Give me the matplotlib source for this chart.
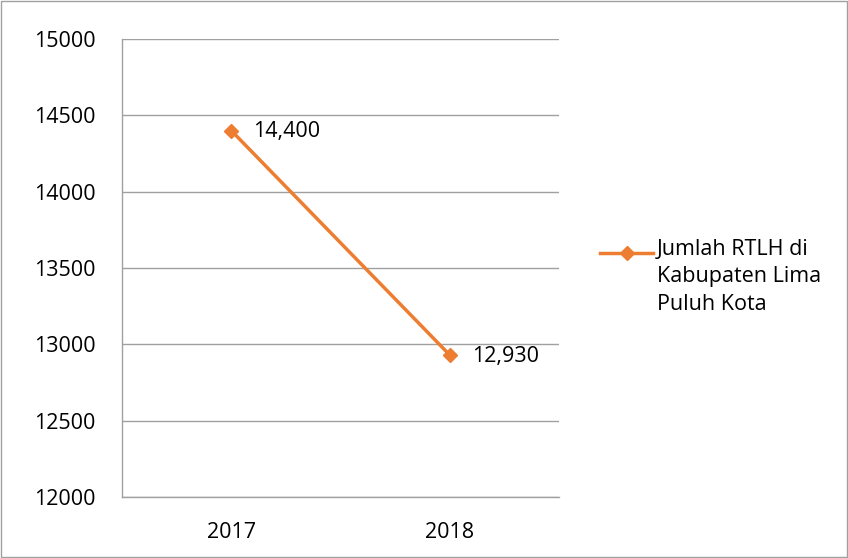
import matplotlib
matplotlib.use("Agg")
import matplotlib.pyplot as plt
from matplotlib.patches import Rectangle
from matplotlib.lines import Line2D

years = ["2017", "2018"]
values = [14400, 12930]
value_labels = ["14,400", "12,930"]
series_name = "Jumlah RTLH di\nKabupaten Lima\nPuluh Kota"
yticks = [12000, 12500, 13000, 13500, 14000, 14500, 15000]

plt.rcParams['font.family'] = ['Open Sans', 'DejaVu Sans']
color = "#ED7D31"
FS = 15.5

fig = plt.figure(figsize=(8.48, 5.58), dpi=100)
ax = fig.add_axes([122/848, 61/558, 437/848, 458/558])

x = [0, 1]
ax.plot(x, values, color=color, lw=2.5, marker='D', markersize=7, zorder=3)
ax.set_xlim(-0.5, 1.5)
ax.set_ylim(12000, 15000)
ax.set_yticks(yticks)
ax.set_yticklabels([str(v) for v in yticks], fontsize=FS)
ax.set_xticks(x)
ax.set_xticklabels(years, fontsize=FS)
ax.tick_params(axis='y', length=0, pad=19)
ax.tick_params(axis='x', length=0, pad=18)
ax.grid(axis='y', color='#A0A0A0', lw=1)
ax.set_axisbelow(True)
for s in ['top', 'right']:
    ax.spines[s].set_visible(False)
for s in ['left', 'bottom']:
    ax.spines[s].set_color('#A0A0A0')
    ax.spines[s].set_linewidth(1)

for xi, v, lab in zip(x, values, value_labels):
    ax.annotate(lab, (xi, v), xytext=(16, -1), textcoords='offset points',
                va='center', ha='left', fontsize=FS)

# legend
ly = 1 - 253/558
fig.add_artist(Line2D([600/848, 653/848], [ly, ly], color=color, lw=2.5))
fig.add_artist(Line2D([627/848], [ly], color=color, marker='D',
                      markersize=7, lw=0))
fig.text(657/848, 1 - 239/558, series_name, fontsize=FS, va='top', ha='left',
         linespacing=1.4, transform=fig.transFigure)

fig.add_artist(Rectangle((1/848, 1/558), 846/848, 556/558, fill=False,
                         edgecolor='#A0A0A0', lw=1, transform=fig.transFigure))

fig.savefig("out.png", dpi=100)
